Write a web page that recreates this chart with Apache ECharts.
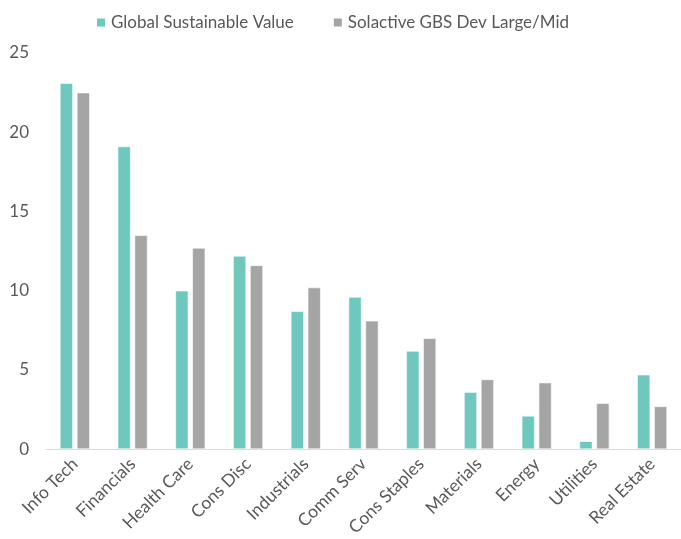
<!DOCTYPE html>
<html>
<head>
<meta charset="utf-8">
<script src="https://cdn.jsdelivr.net/npm/echarts@6/dist/echarts.min.js"></script>
<style>html,body{margin:0;padding:0;background:#fff}#c{width:681px;height:539px}</style>
</head>
<body>
<div id="c"></div>
<script>
var categories = ['Info Tech','Financials','Health Care','Cons Disc','Industrials','Comm Serv','Cons Staples','Materials','Energy','Utilities','Real Estate'];
var seriesNames = ['Global Sustainable Value','Solactive GBS Dev Large/Mid'];
var gsvValues = [23.1, 19.1, 10.0, 12.2, 8.7, 9.6, 6.2, 3.6, 2.1, 0.5, 4.7];
var solValues = [22.5, 13.5, 12.7, 11.6, 10.2, 8.1, 7.0, 4.4, 4.2, 2.9, 2.7];
var yTicks = [0, 5, 10, 15, 20, 25];

var FONT = 'Lato';
var chart = echarts.init(document.getElementById('c'));
chart.setOption({
  animation: false,
  backgroundColor: '#fff',
  textStyle: {fontFamily: FONT},
  legend: {
    left: 95, top: 14, padding: 0,
    itemWidth: 10, itemHeight: 10, itemGap: 38,
    icon: 'rect',
    textStyle: {fontFamily: FONT, fontSize: 17, color: '#595959'},
    data: seriesNames
  },
  grid: {left: 46, right: -1, top: 53, bottom: 89, containLabel: false},
  xAxis: {
    type: 'category', data: categories,
    axisLine: {lineStyle: {color: '#D9D9D9', width: 1}},
    axisTick: {show: false},
    axisLabel: {rotate: 45, margin: 12, interval: 0, color: '#595959', fontSize: 17.5, fontFamily: FONT}
  },
  yAxis: {
    type: 'value', min: yTicks[0], max: yTicks[yTicks.length-1], interval: 5,
    axisLine: {show: false}, axisTick: {show: false},
    splitLine: {show: false},
    axisLabel: {margin: 17, color: '#595959', fontSize: 17, fontFamily: FONT}
  },
  series: [
    {name: seriesNames[0], type: 'bar', data: gsvValues, barWidth: 13, barGap: '30%',
     itemStyle: {color: '#6FC8BD', borderColor: '#ffffff', borderWidth: 0.6}},
    {name: seriesNames[1], type: 'bar', data: solValues, barWidth: 13, barGap: '30%',
     itemStyle: {color: '#A5A5A5', borderColor: '#ffffff', borderWidth: 0.6}}
  ]
});
</script>
</body>
</html>
